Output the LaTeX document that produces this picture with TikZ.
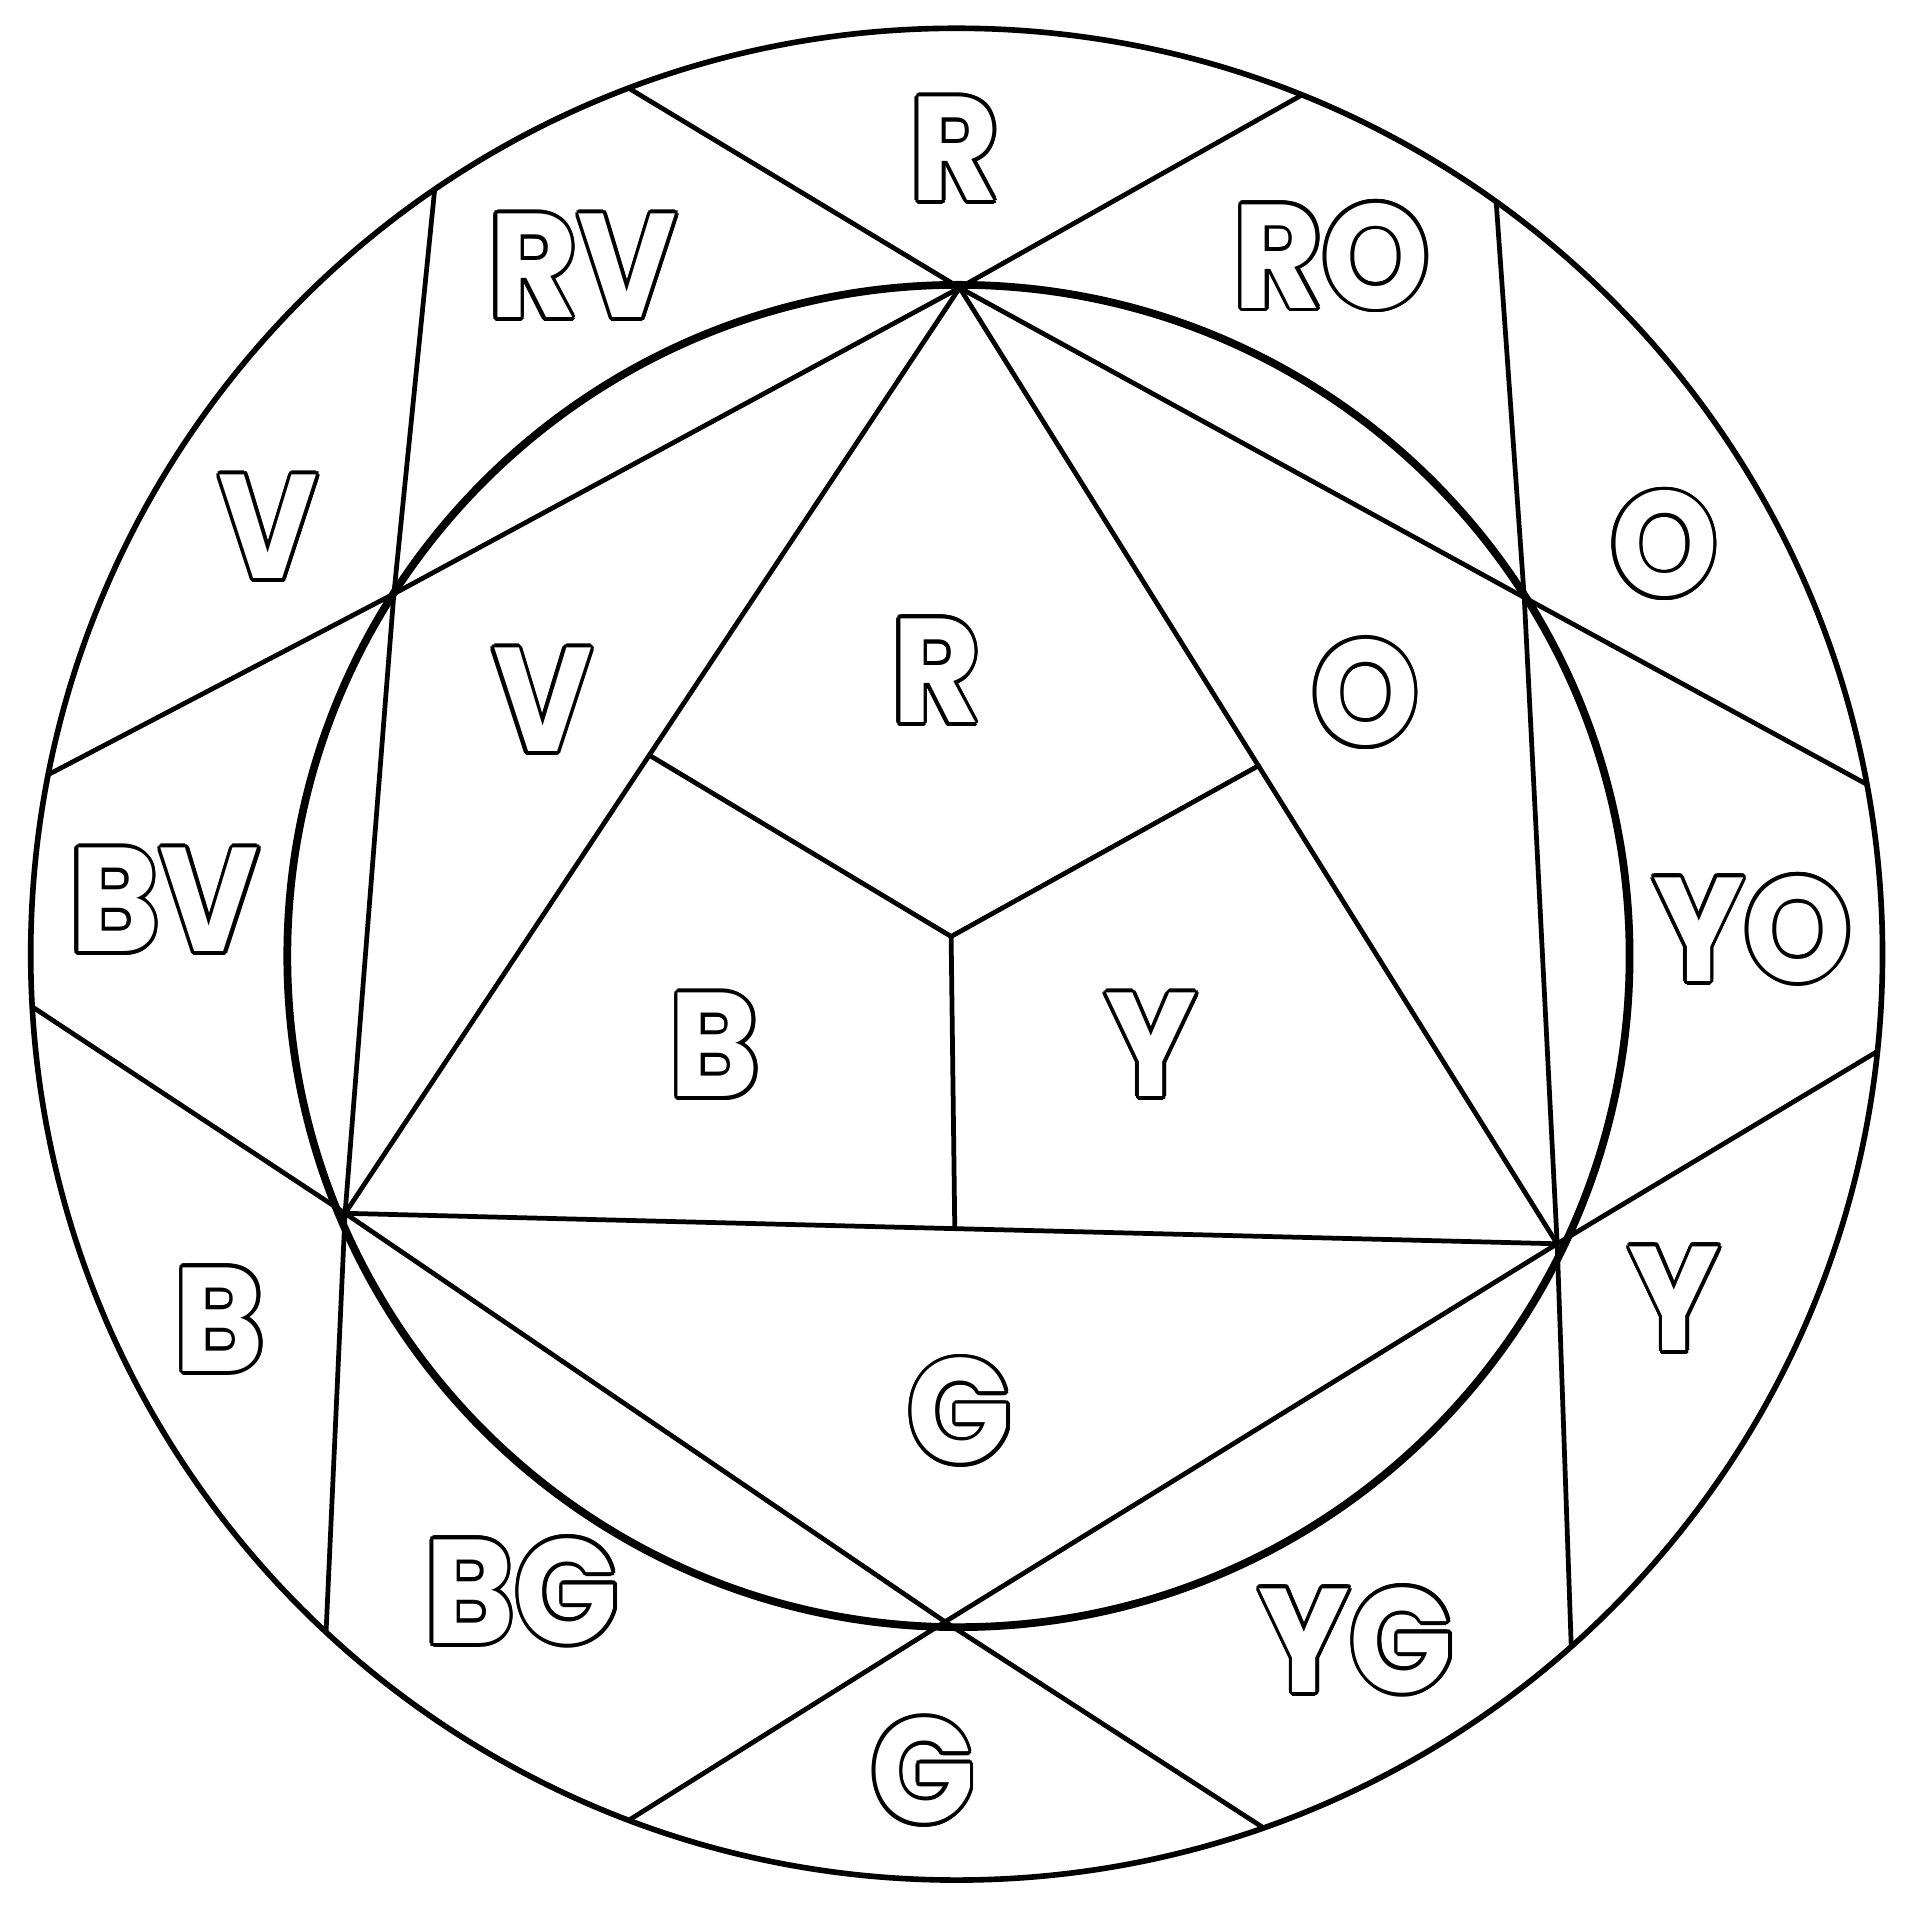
\documentclass[tikz,border=0pt]{standalone}
\usepackage{fontspec}
\setmainfont{Poppins}
\usetikzlibrary{calc}
\newlength\holw
\setlength\holw{1.1pt}
\newcommand\hollow[1]{%
  \leavevmode\rlap{\foreach \a in {0,22.5,...,337.5}{%
    \pgfmathsetlengthmacro\hdx{\holw*cos(\a)}%
    \pgfmathsetlengthmacro\hdy{\holw*sin(\a)}%
    \rlap{\kern\hdx\raisebox{\hdy}{#1}}}}%
  \textcolor{white}{#1}}
\tikzset{
  lab/.style={font=\bfseries\fontsize{42}{42}\selectfont, inner sep=0pt, text=black,
    transform shape, xscale=0.92},
  ln/.style={line width=1.35pt, line cap=round, line join=round},
  outerc/.style={line width=1.6pt},
  innerc/.style={line width=2.2pt},
}
\begin{document}
\begin{tikzpicture}[x=0.012194cm, y=-0.012194cm]
\useasboundingbox (0,0) rectangle (1568,1568);
% centres
\coordinate (C) at (784.5,782.5);
\coordinate (Ci) at (786,784);
% hexagram points on inner circle
\coordinate (T) at (787,236);
\coordinate (UL) at (323,487);
\coordinate (UR) at (1250,490);
\coordinate (LL) at (283,995);
\coordinate (LR) at (1277,1020);
\coordinate (Bo) at (775,1330);
% outer ends
\coordinate (a1) at (520,75);
\coordinate (a2) at (1525,640);
\coordinate (b1) at (1055,85);
\coordinate (b2) at (42,634);
\coordinate (c1) at (355,170);
\coordinate (c2) at (268,1325);
\coordinate (d1) at (1228,180);
\coordinate (d2) at (1288,1335);
\coordinate (e1) at (30,828);
\coordinate (e2) at (1030,1495);
\coordinate (f1) at (1535,865);
\coordinate (f2) at (520,1490);
% Y centre
\coordinate (Yc) at (780,768);
\coordinate (mL) at ($(T)!0.505!(LL)$);
\coordinate (mR) at ($(T)!0.5!(LR)$);
\coordinate (mB) at ($(LL)!0.503!(LR)$);

\begin{scope}
\clip (C) circle [radius=9.25cm];
\draw[ln] ($(T)!1.15!(a1)$) -- (T) -- (UR) -- ($(UR)!1.15!(a2)$);
\draw[ln] ($(T)!1.15!(b1)$) -- (T) -- (UL) -- ($(UL)!1.15!(b2)$);
\draw[ln] ($(UL)!1.15!(c1)$) -- (UL) -- (LL) -- ($(LL)!1.15!(c2)$);
\draw[ln] ($(UR)!1.15!(d1)$) -- (UR) -- (LR) -- ($(LR)!1.15!(d2)$);
\draw[ln] ($(LL)!1.15!(e1)$) -- (LL) -- (Bo) -- ($(Bo)!1.15!(e2)$);
\draw[ln] ($(LR)!1.15!(f1)$) -- (LR) -- (Bo) -- ($(Bo)!1.15!(f2)$);
\end{scope}
% triangle
\draw[ln] (T) -- (LL) -- (LR) -- cycle;
\draw[ln] (mL) -- (Yc) -- (mR);
\draw[ln] (Yc) -- (mB);
% circles
\draw[outerc] (C) circle [radius=9.257cm];
\draw[innerc] (Ci) circle [radius=6.71cm];

% outer labels
\node[lab] (oR)  at (783,122)  {\hollow{R}};
\node[lab] (oRO) at (1092,210) {\hollow{RO}};
\node[lab] (oRV) at (478,218)  {\hollow{RV}};
\node[lab] (oO)  at (1365,446) {\hollow{O}};
\node[lab] (oV)  at (220,432)  {\hollow{V}};
\node[lab] (oBV) at (135,738)  {\hollow{BV}};
\node[lab] (oYO) at (1437,762) {\hollow{YO}};
\node[lab] (oB)  at (180,1082) {\hollow{B}};
\node[lab] (oY)  at (1373,1065) {\hollow{Y}};
\node[lab] (oBG) at (428,1305) {\hollow{BG}};
\node[lab] (oYG) at (1112,1345) {\hollow{YG}};
\node[lab] (oG)  at (757,1452) {\hollow{G}};
% inner labels
\node[lab] (iR) at (768,550)  {\hollow{R}};
\node[lab] (iV) at (445,574)  {\hollow{V}};
\node[lab] (iO) at (1120,568) {\hollow{O}};
\node[lab] (iB) at (586,857)  {\hollow{B}};
\node[lab] (iY) at (944,857)  {\hollow{Y}};
\node[lab] (iG) at (787,1157) {\hollow{G}};
\end{tikzpicture}
\end{document}
